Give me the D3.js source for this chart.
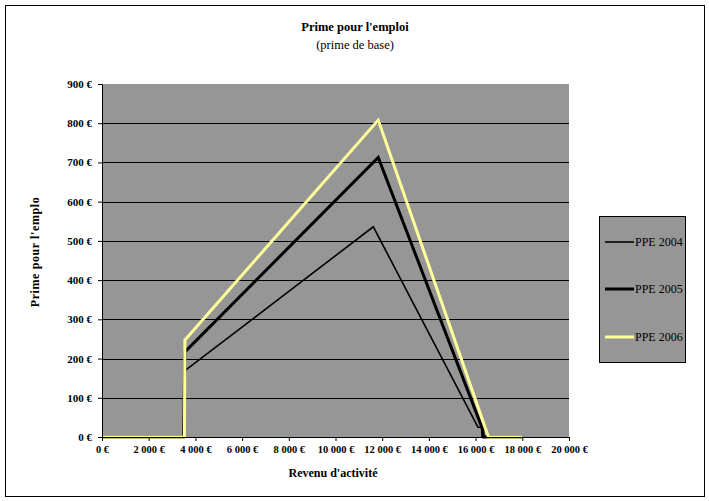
<!DOCTYPE html>
<html><head><meta charset="utf-8">
<script src="https://cdn.jsdelivr.net/npm/d3@7"></script>
<style>
body{margin:0;background:#fff;}
svg{display:block;}
text{font-family:"Liberation Serif","Times New Roman",serif;}
</style></head>
<body>
<script>
// ---- data ----
const seriesNames = ["PPE 2004", "PPE 2005", "PPE 2006"];
const income2004 = [0, 3500, 3550, 11620, 16100, 16250, 16280, 18000];
const ppe2004    = [0, 0,    169,  536,   25,    25,    0,     0];
const income2005 = [0, 3500, 3550, 11830, 16300, 16340, 18000];
const ppe2005    = [0, 0,    217,  713,   20,    0,     0];
const income2006 = [0, 3530, 3550, 11830, 16550, 18000];
const ppe2006    = [0, 0,    247,  808,   0,     0];
const xTicks = [0, 2000, 4000, 6000, 8000, 10000, 12000, 14000, 16000, 18000, 20000];
const yTicks = [0, 100, 200, 300, 400, 500, 600, 700, 800, 900];
const titleText = "Prime pour l'emploi";
const subtitleText = "(prime de base)";
const xTitle = "Revenu d'activité";
const yTitle = "Prime pour l'emplo";

const W = 709, H = 501;
const svg = d3.select("body").append("svg").attr("width", W).attr("height", H);

svg.append("rect").attr("x", 5.5).attr("y", 5.5).attr("width", 699).attr("height", 491)
  .attr("fill", "#fff").attr("stroke", "#000").attr("stroke-width", 1);

const x = d3.scaleLinear().domain([0, 20000]).range([102, 569]);
const y = d3.scaleLinear().domain([0, 900]).range([437, 84]);

const loc = d3.formatLocale({decimal: ",", thousands: " ", grouping: [3], currency: ["", " €"]});
const fmt = loc.format("$,.0f");

// plot area
svg.append("rect").attr("x", x(0)).attr("y", y(900)).attr("width", x(20000) - x(0)).attr("height", y(0) - y(900))
  .attr("fill", "#969696");

// gridlines
svg.append("g").selectAll("line").data(yTicks.filter(d => d > 0 && d < 900)).join("line")
  .attr("x1", x(0)).attr("x2", x(20000))
  .attr("y1", d => Math.round(y(d)) + 0.5).attr("y2", d => Math.round(y(d)) + 0.5)
  .attr("stroke", "#000").attr("stroke-width", 1);

// series
const series = [
  {name: seriesNames[0], xs: income2004, ys: ppe2004, color: "#000", w: 1.6},
  {name: seriesNames[1], xs: income2005, ys: ppe2005, color: "#000", w: 3},
  {name: seriesNames[2], xs: income2006, ys: ppe2006, color: "#ffff99", w: 3}
];
const line = d3.line().x(d => x(d[0])).y(d => y(d[1]));
series.forEach(s => {
  svg.append("path").datum(s.xs.map((v, i) => [v, s.ys[i]]))
    .attr("d", line).attr("fill", "none").attr("stroke", s.color)
    .attr("stroke-width", s.w).attr("stroke-linejoin", "miter");
});

// axes
const yAxis = svg.append("g").attr("transform", `translate(${x(0)},0)`)
  .call(d3.axisLeft(y).tickValues(yTicks).tickFormat(fmt).tickSize(4).tickPadding(6));
const xAxis = svg.append("g").attr("transform", `translate(0,${y(0)})`)
  .call(d3.axisBottom(x).tickValues(xTicks).tickFormat(fmt).tickSize(4).tickPadding(5));
[yAxis, xAxis].forEach(a => {
  a.select(".domain").attr("stroke", "#000");
  a.selectAll(".tick line").attr("stroke", "#000");
  a.selectAll("text").attr("font-family", "Liberation Serif, serif")
    .attr("font-weight", "bold").attr("font-size", 11).attr("fill", "#000");
});
xAxis.selectAll("text").attr("font-size", 10.5);

// titles
svg.append("text").attr("x", 355).attr("y", 31).attr("text-anchor", "middle")
  .attr("font-weight", "bold").attr("font-size", 12.5).text(titleText);
svg.append("text").attr("x", 355).attr("y", 49).attr("text-anchor", "middle")
  .attr("font-size", 12.5).text(subtitleText);
svg.append("text").attr("x", 333).attr("y", 477).attr("text-anchor", "middle")
  .attr("font-weight", "bold").attr("font-size", 12).text(xTitle);
svg.append("text").attr("transform", "translate(39,252) rotate(-90)").attr("text-anchor", "middle")
  .attr("font-weight", "bold").attr("font-size", 12).attr("letter-spacing", 0.6).text(yTitle);

// legend
const lg = svg.append("g");
lg.append("rect").attr("x", 599.5).attr("y", 216.5).attr("width", 86).attr("height", 146)
  .attr("fill", "#969696").attr("stroke", "#000").attr("stroke-width", 1);
const legY = [242, 289, 337];
series.forEach((s, i) => {
  lg.append("line").attr("x1", 605).attr("x2", 634).attr("y1", legY[i]).attr("y2", legY[i])
    .attr("stroke", s.color).attr("stroke-width", s.w);
  lg.append("text").attr("x", 635).attr("y", legY[i] + 4).attr("font-size", 12).text(s.name);
});
</script>
</body></html>
